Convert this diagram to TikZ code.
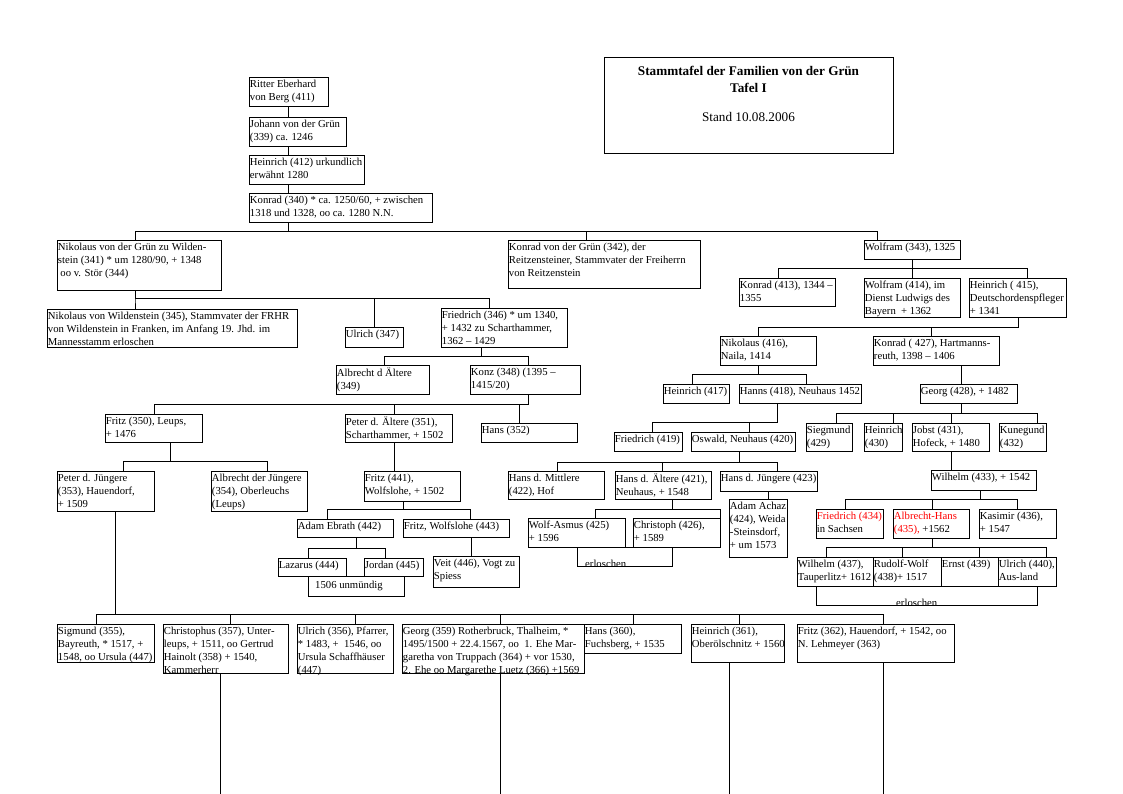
\documentclass[tikz,border=0pt]{standalone}
\usepackage{fontspec}
\setmainfont{Liberation Serif}
\usetikzlibrary{fit}
\tikzset{
  box/.style={draw, line width=0.9pt, inner sep=0pt},
  txt/.style={anchor=north west, inner xsep=1.2pt, inner ysep=3.1pt, align=left, font=\fontsize{10.7}{13}\selectfont},
  wire/.style={line width=0.9pt},
  plain/.style={inner sep=0pt, font=\fontsize{10.7}{13}\selectfont},
  ttl/.style={inner sep=0pt, anchor=base, font=\fontsize{13.2}{15}\selectfont},
}
\newcommand\bx[6]{\node[box, fit={(#2,#3)(#4,#5)}] (#1) {}; \node[txt] (#1-t) at (#1.north west) {#6};}
\newcommand\lnk[5]{\draw[wire] (#1.south -| #2,0) -- (#2,#3) -| (#4.north -| #5,0);}
\newcommand\vln[3]{\draw[wire] (#1.south -| #2,0) -- (#3.north -| #2,0);}
\begin{document}
\begin{tikzpicture}[x=1pt,y=-1pt]
\fill[white] (0,0) rectangle (1123,794);
\useasboundingbox (0,0) rectangle (1123,794);

% title
\node[box, fit={(604,57)(893,153)}] (title) {};
\node[ttl, font=\bfseries\fontsize{13.2}{15}\selectfont] (title-a) at (748.5,75.5) {Stammtafel der Familien von der Grün};
\node[ttl, font=\bfseries\fontsize{13.2}{15}\selectfont] (title-b) at (748.5,92.5) {Tafel I};
\node[ttl] (title-c) at (748.5,121.5) {Stand 10.08.2006};

% top column
\bx{ritter}{249}{77}{328}{106}{Ritter Eberhard\\von Berg (411)}
\bx{johann}{249}{117}{346}{146}{Johann von der Grün\\(339) ca. 1246}
\bx{hein412}{249}{155}{364}{184}{Heinrich (412) urkundlich\\erwähnt 1280}
\bx{kon340}{249}{193}{432}{222}{Konrad (340) * ca. 1250/60, + zwischen\\1318 und 1328, oo ca. 1280 N.N.}

% generation 2
\bx{nik341}{57}{240}{221}{290}{Nikolaus von der Grün zu Wilden-\\stein (341) * um 1280/90, + 1348\\\hspace{2.5pt}oo v. Stör (344)}
\bx{kon342}{508}{240}{700}{288}{Konrad von der Grün (342), der\\Reitzensteiner, Stammvater der Freiherrn\\von Reitzenstein}
\bx{wol343}{864}{240}{960}{259}{Wolfram (343), 1325}

% left branch
\bx{nik345}{47}{309}{297}{347}{Nikolaus von Wildenstein (345), Stammvater der FRHR\\von Wildenstein in Franken, im Anfang 19. Jhd. im\\Mannesstamm erloschen}
\bx{ulr347}{345}{327}{403}{347}{Ulrich (347)}
\bx{fri346}{441}{308}{567}{347}{Friedrich (346) * um 1340,\\+ 1432 zu Scharthammer,\\1362 – 1429}
\bx{alb349}{336}{365}{429}{394}{Albrecht d Ältere\\(349)}
\bx{kon348}{470}{365}{580}{394}{Konz (348) (1395 –\\1415/20)}
\bx{fri350}{105}{414}{202}{442}{Fritz (350), Leups,\\+ 1476}
\bx{pet351}{345}{414}{452}{442}{Peter d. Ältere (351),\\Scharthammer, + 1502}
\bx{han352}{481}{423}{577}{442}{Hans (352)}
\bx{pet353}{57}{471}{154}{511}{Peter d. Jüngere\\(353), Hauendorf,\\+ 1509}
\bx{alb354}{211}{471}{307}{511}{Albrecht der Jüngere\\(354), Oberleuchs\\(Leups)}
\bx{fri441}{364}{471}{460}{501}{Fritz (441),\\Wolfslohe, + 1502}
\bx{ada442}{297}{519}{393}{537}{Adam Ebrath (442)}
\bx{fri443}{403}{519}{509}{537}{Fritz, Wolfslohe (443)}
\bx{laz444}{278}{558}{346}{576}{Lazarus (444)}
\bx{jor445}{364}{558}{423}{576}{Jordan (445)}
\node[box, fit={(308,576)(404,596)}] (unm) {};
\node[plain, anchor=base west] (unm-t) at (315,588) {1506 unmündig};
\bx{vei446}{433}{556}{519}{587}{Veit (446), Vogt zu\\Spiess}

% right branch
\bx{kon413}{739}{278}{835}{306}{Konrad (413), 1344 –\\1355}
\bx{wol414}{864}{278}{960}{317}{Wolfram (414), im\\Dienst Ludwigs des\\Bayern \ + 1362}
\bx{hei415}{969}{278}{1066}{317}{Heinrich ( 415),\\Deutschordenspfleger\\+ 1341}
\bx{nik416}{720}{336}{816}{365}{Nikolaus (416),\\Naila, 1414}
\bx{kon427}{873}{336}{999}{365}{Konrad ( 427), Hartmanns-\\reuth, 1398 – 1406}
\bx{hei417}{663}{384}{729}{403}{Heinrich (417)}
\bx{han418}{739}{384}{861}{403}{Hanns (418), Neuhaus 1452}
\bx{geo428}{920}{384}{1017}{403}{Georg (428), + 1482}
\bx{fri419}{614}{432}{682}{451}{Friedrich (419)}
\bx{osw420}{691}{432}{795}{451}{Oswald, Neuhaus (420)}
\bx{sie429}{806}{423}{852}{451}{Siegmund\\(429)}
\bx{hei430}{864}{423}{902}{451}{Heinrich\\(430)}
\bx{job431}{912}{423}{989}{451}{Jobst (431),\\Hofeck, + 1480}
\bx{kun432}{999}{423}{1046}{451}{Kunegund\\(432)}
\bx{han422}{508}{471}{604}{499}{Hans d. Mittlere\\(422), Hof}
\bx{han421}{615}{471}{711}{499}{Hans d. Ältere (421),\\Neuhaus, + 1548}
\bx{han423}{720}{471}{817}{491}{Hans d. Jüngere (423)}
\bx{wil433}{931}{470}{1036}{490}{Wilhelm (433), + 1542}
\bx{wol425}{528}{518}{625}{547}{Wolf-Asmus (425)\\+ 1596}
\bx{chr426}{633}{518}{720}{547}{Christoph (426),\\+ 1589}
\bx{ada424}{729}{499}{787}{557}{Adam Achaz\\(424), Weida\\-Steinsdorf,\\+ um 1573}
\node[box, fit={(577,547)(672,566)}] (erl1) {};
\begin{scope}
\clip (erl1.south west) rectangle (erl1.north east);
\node[plain, anchor=base west] (erl1-t) at (585,567) {erloschen};
\end{scope}
\bx{fri434}{816}{509}{883}{538}{\textcolor{red}{Friedrich (434)}\\in Sachsen}
\bx{alb435}{893}{509}{969}{538}{\textcolor{red}{Albrecht-Hans}\\\textcolor{red}{(435), }+1562}
\bx{kas436}{979}{509}{1056}{538}{Kasimir (436),\\+ 1547}
\bx{wil437}{797}{557}{873}{586}{Wilhelm (437),\\Tauperlitz+ 1612}
\bx{rud438}{873}{557}{941}{586}{Rudolf-Wolf\\(438)+ 1517}
\bx{ern439}{941}{557}{998}{586}{Ernst (439)}
\bx{ulr440}{998}{557}{1056}{586}{Ulrich (440),\\Aus-land}
\node[box, fit={(816,586)(1037,605)}] (erl2) {};
\begin{scope}
\clip (erl2.south west) rectangle (erl2.north east);
\node[plain, anchor=base west] (erl2-t) at (896,606) {erloschen};
\end{scope}

% bottom row
\bx{sig355}{57}{624}{154}{662}{Sigmund (355),\\Bayreuth, * 1517, +\\1548, oo Ursula (447)}
\bx{chr357}{163}{624}{288}{673}{Christophus (357), Unter-\\leups, + 1511, oo Gertrud\\Hainolt (358) + 1540,\\Kammerherr}
\bx{ulr356}{297}{624}{393}{673}{Ulrich (356), Pfarrer,\\* 1483, + \ 1546, oo\\Ursula Schaffhäuser\\(447)}
\bx{geo359}{402}{624}{584}{673}{Georg (359) Rotherbruck, Thalheim, *\\1495/1500 + 22.4.1567, oo \ 1. Ehe Mar-\\garetha von Truppach (364) + vor 1530,\\2. Ehe oo Margarethe Luetz (366) +1569}
\bx{han360}{584}{624}{681}{653}{Hans (360),\\Fuchsberg, + 1535}
\bx{hei361}{691}{624}{784}{662}{Heinrich (361),\\Oberölschnitz + 1560}
\bx{fri362}{797}{624}{954}{662}{Fritz (362), Hauendorf, + 1542, oo\\N. Lehmeyer (363)}

% connectors
\vln{ritter}{288}{johann}
\vln{johann}{288}{hein412}
\vln{hein412}{288}{kon340}
\lnk{kon340}{288}{231}{nik341}{135}
\lnk{kon340}{288}{231}{kon342}{586}
\lnk{kon340}{288}{231}{wol343}{877}
\lnk{nik341}{135}{298}{nik345}{135}
\lnk{nik341}{135}{298}{ulr347}{374}
\lnk{nik341}{135}{298}{fri346}{489}
\lnk{fri346}{481}{356}{alb349}{384}
\lnk{fri346}{481}{356}{kon348}{528}
\lnk{kon348}{528}{404}{fri350}{154}
\lnk{kon348}{528}{404}{pet351}{394}
\lnk{kon348}{528}{404}{han352}{519}
\lnk{fri350}{170}{461}{pet353}{123}
\lnk{fri350}{170}{461}{alb354}{267}
\vln{pet351}{394}{fri441}
\lnk{fri441}{403}{509}{ada442}{327}
\lnk{fri441}{403}{509}{fri443}{470}
\lnk{ada442}{356}{548}{laz444}{308}
\lnk{ada442}{356}{548}{jor445}{385}
\vln{fri443}{471}{vei446}
\lnk{pet353}{115}{614}{sig355}{96}
\lnk{pet353}{115}{614}{chr357}{230}
\lnk{pet353}{115}{614}{ulr356}{355}
\lnk{pet353}{115}{614}{geo359}{500}
\lnk{pet353}{115}{614}{han360}{633}
\lnk{pet353}{115}{614}{hei361}{739}
\lnk{pet353}{115}{614}{fri362}{883}
\lnk{wol343}{912}{268}{kon413}{778}
\lnk{wol343}{912}{268}{wol414}{912}
\lnk{wol343}{912}{268}{hei415}{1027}
\lnk{hei415}{1018}{327}{nik416}{758}
\lnk{hei415}{1018}{327}{kon427}{931}
\lnk{nik416}{758}{374}{hei417}{692}
\lnk{nik416}{758}{374}{han418}{806}
\vln{kon427}{961}{geo428}
\lnk{han418}{777}{422}{fri419}{652}
\lnk{han418}{777}{422}{osw420}{749}
\lnk{osw420}{739}{462}{han422}{557}
\lnk{osw420}{739}{462}{han421}{662}
\lnk{osw420}{739}{462}{han423}{777}
\lnk{han421}{672}{509}{wol425}{595}
\lnk{han421}{672}{509}{chr426}{720}
\vln{han423}{768}{ada424}
\lnk{geo428}{961}{413}{sie429}{836}
\lnk{geo428}{961}{413}{hei430}{893}
\lnk{geo428}{961}{413}{job431}{951}
\lnk{geo428}{961}{413}{kun432}{1037}
\vln{job431}{951}{wil433}
\lnk{wil433}{980}{499}{fri434}{845}
\lnk{wil433}{980}{499}{alb435}{932}
\lnk{wil433}{980}{499}{kas436}{1017}
\lnk{alb435}{932}{547}{wil437}{826}
\lnk{alb435}{932}{547}{rud438}{902}
\lnk{alb435}{932}{547}{ern439}{979}
\lnk{alb435}{932}{547}{ulr440}{1046}
\coordinate (end1) at (220,794);
\coordinate (end2) at (500,794);
\coordinate (end3) at (729,794);
\coordinate (end4) at (883,794);
\draw[wire] (chr357.south -| end1) -- (end1);
\draw[wire] (geo359.south -| end2) -- (end2);
\draw[wire] (hei361.south -| end3) -- (end3);
\draw[wire] (fri362.south -| end4) -- (end4);
\end{tikzpicture}
\end{document}
